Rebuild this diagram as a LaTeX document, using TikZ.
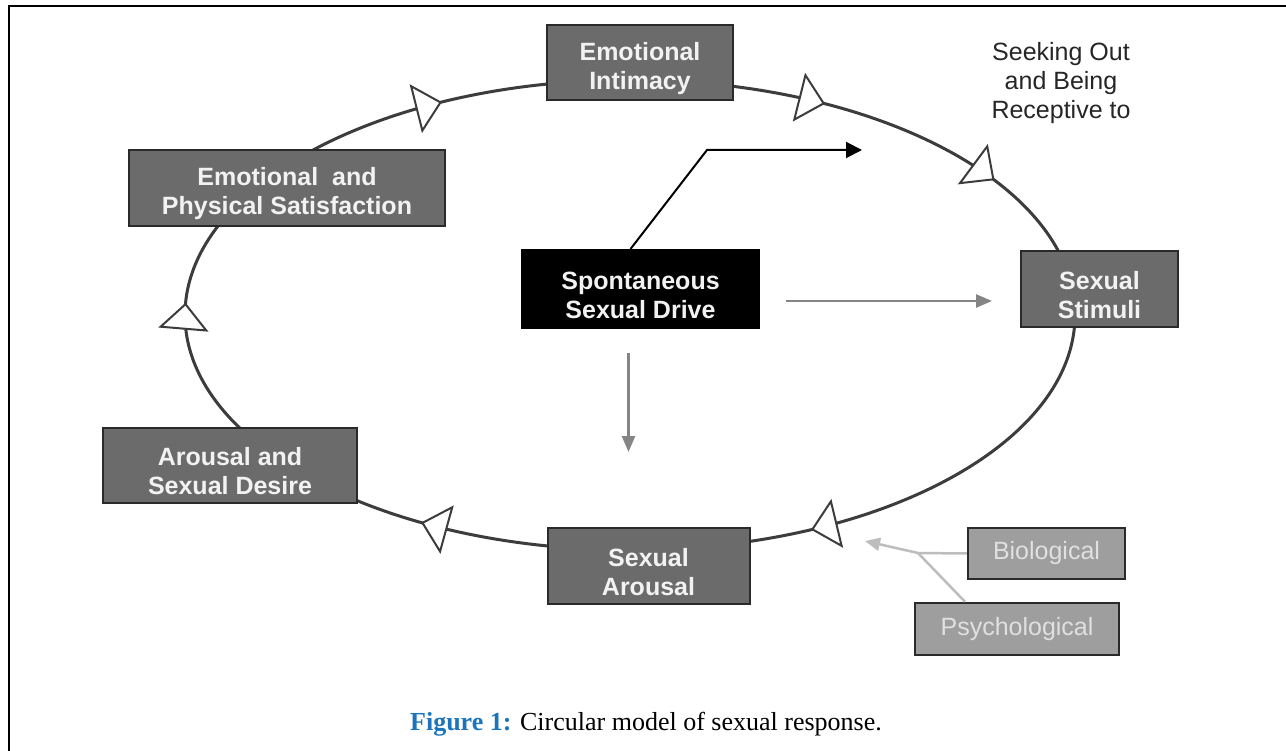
\documentclass[tikz,border=0pt]{standalone}
\usepackage{fontspec}
\setmainfont{Liberation Serif}
\newfontfamily\arialfont{Liberation Sans}
\usetikzlibrary{arrows.meta}
\definecolor{boxgray}{HTML}{6B6B6B}
\definecolor{boxedge}{HTML}{2A2A2A}
\definecolor{boxtext}{HTML}{F2F2F2}
\definecolor{lightbox}{HTML}{9E9E9E}
\definecolor{lighttext}{HTML}{E0E0E0}
\definecolor{cyclegray}{HTML}{3C3C3C}
\definecolor{midgray}{HTML}{858585}
\definecolor{palegray}{HTML}{BDBDBD}
\definecolor{capblue}{HTML}{1C75BC}
\newcommand{\lowerstrut}{\rule{0pt}{30pt}}
\tikzset{
  stagebox/.style={draw=boxedge, line width=2pt, fill=boxgray, text=boxtext,
    font=\arialfont\bfseries\fontsize{25}{29}\selectfont, align=center, inner sep=0pt},
  drivebox/.style={stagebox, fill=black, draw=black},
  factorbox/.style={draw=boxedge, line width=2.5pt, fill=lightbox, text=lighttext,
    font=\arialfont\fontsize{25}{29}\selectfont, align=center, inner sep=0pt},
  cycle/.style={draw=cyclegray, line width=3pt},
  opentri/.style={draw=cyclegray, line width=2pt,
    -{Triangle[length=27pt,width=50pt,fill=white]}},
  darkarrow/.style={draw=black, line width=2pt, -{Triangle[length=16pt,width=16pt]}},
  grayarrow/.style={draw=midgray, line width=2.5pt, -{Triangle[length=16pt,width=13pt]}},
  palearrow/.style={draw=palegray, line width=2.5pt},
}
\newcommand{\cyctri}[1]{%
  \draw[opentri] ({630+445*cos(#1-1)},{315+235*sin(#1-1)}) -- ({630+445*cos(#1)},{315+235*sin(#1)});}
\begin{document}
\begin{tikzpicture}[x=1pt,y=-1pt]
\useasboundingbox (0,0) rectangle (1286,751);
\fill[white] (0,0) rectangle (1286,751);
% frame
\draw[line width=2.5pt] (9,751) -- (9,6) -- (1286,6);

% cycle
\draw[cycle] (630,315) ellipse [x radius=445, y radius=235];
\cyctri{245}
\cyctri{296}
\cyctri{325}
\cyctri{183}
\cyctri{66}
\cyctri{118}

% stage boxes
\node[stagebox, minimum width=186pt, minimum height=75pt] (ei) at (640,62.5) {\lowerstrut Emotional\\Intimacy};
\node[stagebox, minimum width=316pt, minimum height=76pt] (eps) at (287,188) {\lowerstrut Emotional\ \ and\\Physical Satisfaction};
\node[drivebox, minimum width=237pt, minimum height=78pt] (ssd) at (640.5,289) {\lowerstrut Spontaneous\\Sexual Drive};
\node[stagebox, minimum width=157pt, minimum height=76pt] (ss) at (1099.5,289) {\lowerstrut Sexual\\Stimuli};
\node[stagebox, minimum width=254pt, minimum height=75pt] (asd) at (230,465.5) {\lowerstrut Arousal and\\Sexual Desire};
\node[stagebox, minimum width=202pt, minimum height=76pt] (sa) at (648.5,566) {\lowerstrut Sexual\\Arousal};
\node[factorbox, minimum width=157pt, minimum height=51pt] (bio) at (1046.5,553.5) {Biological};
\node[factorbox, minimum width=204pt, minimum height=52pt] (psy) at (1017,629) {Psychological};

\node[text=black!85, font=\arialfont\fontsize{25}{29}\selectfont, align=center] (seek) at (1061,83) {Seeking Out\\and Being\\Receptive to};

% arrows from drive
\coordinate (bend) at (707,150);
\coordinate (seektip) at (862,150);
\draw[darkarrow] ([xshift=-10pt]ssd.north) -- (bend) -- (seektip);
\draw[grayarrow] ([shift={(26,12)}]ssd.east) -- ([shift={(-28,12)}]ss.west);
\draw[grayarrow] ([shift={(-12,24)}]ssd.south) -- ([shift={(-20,-75)}]sa.north);

% factors
\coordinate (junc) at (918,553);
\coordinate (factip) at (865,541);
\draw[palearrow] (bio.west) -- (junc);
\draw[palearrow] ([xshift=-52pt]psy.north) -- (junc);
\draw[palearrow, -{Triangle[length=15pt,width=13pt]}] (junc) -- (factip);

% caption
\node[anchor=base, font=\fontsize{26}{30}\selectfont] (cap) at (646,730)
  {\textcolor{capblue}{\bfseries Figure 1:} Circular model of sexual response.};
\end{tikzpicture}
\end{document}
